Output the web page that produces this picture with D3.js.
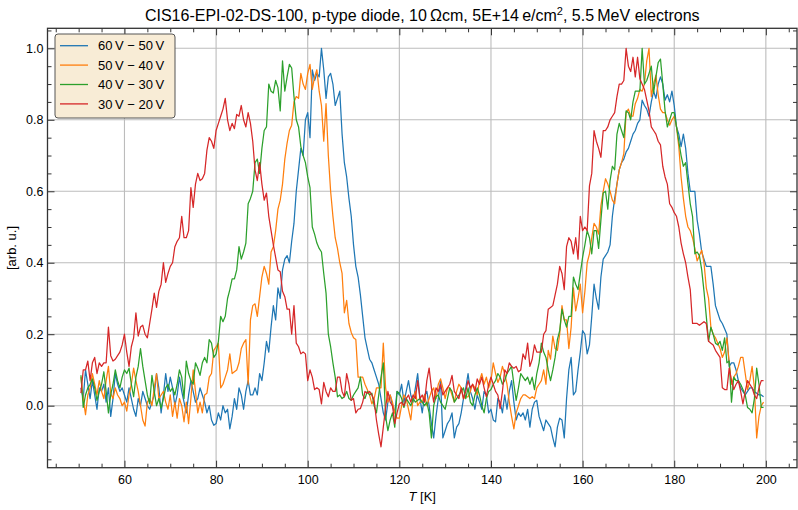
<!DOCTYPE html>
<html><head><meta charset="utf-8">
<script src="https://cdn.jsdelivr.net/npm/d3@7/dist/d3.min.js"></script>
<style>
body{margin:0;background:#fff}
svg{display:block}
text{font-family:"Liberation Sans",Arial,Helvetica,sans-serif;fill:#000}
</style>
</head><body><svg id="c" width="798" height="510"></svg>
<script>
// ---- data (T from 50.5 K to 199.5 K in 0.5 K steps) ----
const T_START = 50.5, T_STEP = 0.5;
const seriesLabels = ["60\u2009V \u2212 50\u2009V", "50\u2009V \u2212 40\u2009V", "40\u2009V \u2212 30\u2009V", "30\u2009V \u2212 20\u2009V"];
const seriesColors = ["#1f77b4", "#ff7f0e", "#2ca02c", "#d62728"];

const v60_50 = [
0.05,0.02,0.10,0.06,0.02,0.07,0.03,-0.01,0.05,
0.04,0.06,0.01,0.05,-0.03,0.02,0.09,0.06,0.04,0.05,
0.03,0.01,0.05,0.02,-0.01,-0.03,0.02,0.00,0.04,0.02,
0.00,-0.01,0.01,0.03,0.09,0.05,-0.02,0.03,0.09,0.04,
0.08,0.05,0.00,0.03,0.08,0.04,0.01,-0.02,0.03,0.07,
0.04,0.01,0.02,0.05,0.03,0.01,-0.02,0.00,-0.04,-0.055,
-0.05,-0.02,-0.04,0.00,-0.02,-0.01,-0.065,-0.03,0.02,-0.01,
0.05,0.03,-0.01,0.04,0.07,0.03,0.03,0.05,0.03,0.09,
0.07,0.12,0.18,0.15,0.22,0.28,0.24,0.33,0.30,0.38,
0.41,0.42,0.40,0.46,0.51,0.60,0.66,0.72,0.70,0.80,
0.82,0.75,0.94,0.91,0.93,0.92,1.00,0.94,0.86,0.92,
0.93,0.90,0.84,0.86,0.88,0.76,0.68,0.64,0.58,0.53,
0.45,0.39,0.36,0.31,0.25,0.19,0.16,0.13,0.12,0.10,
0.08,0.06,0.02,-0.02,-0.04,0.01,0.03,0.00,-0.02,0.04,
0.03,0.06,0.01,0.04,0.07,0.03,0.01,0.05,0.09,0.02,
-0.02,0.03,0.04,0.00,-0.05,-0.09,-0.03,0.02,0.07,-0.09,
-0.07,-0.05,-0.04,-0.02,-0.09,-0.06,-0.05,-0.02,0.02,0.05,
0.09,0.04,0.02,-0.01,0.03,0.01,-0.01,0.04,0.03,-0.02,
-0.01,-0.04,-0.045,0.02,0.01,-0.02,0.03,-0.01,0.04,0.07,
0.01,-0.04,-0.02,-0.03,-0.02,-0.04,-0.01,-0.06,-0.01,0.01,
0.015,-0.03,-0.05,-0.07,-0.04,-0.05,-0.06,-0.09,-0.115,-0.06,
-0.035,-0.04,-0.09,0.02,0.10,0.135,0.03,0.04,0.10,0.15,
0.21,0.20,0.145,0.17,0.25,0.34,0.30,0.27,0.36,0.41,
0.42,0.43,0.45,0.53,0.58,0.62,0.66,0.68,0.69,0.71,
0.72,0.74,0.76,0.77,0.79,0.80,0.855,0.84,0.83,0.81,
0.85,0.88,0.86,0.90,0.92,0.90,0.855,0.87,0.85,0.88,
0.84,0.78,0.76,0.725,0.76,0.72,0.65,0.60,0.60,0.60,
0.52,0.48,0.43,0.41,0.39,0.39,0.39,0.34,0.28,0.26,
0.24,0.23,0.215,0.20,0.11,0.12,0.12,0.10,0.07,0.05,
0.04,0.03,0.04,0.05,0.05,0.04,0.035,0.03,0.03,0.025];

const v50_40 = [
0.08,0.02,-0.025,0.03,0.05,0.09,0.06,0.03,0.07,
0.04,0.02,0.07,0.11,0.035,0.02,0.05,0.03,0.02,0.00,
0.01,-0.015,0.03,0.06,0.105,0.07,0.04,0.00,-0.04,-0.057,
0.01,0.02,0.00,0.05,0.09,0.02,0.03,0.04,0.01,-0.01,
0.03,-0.03,0.01,-0.035,0.02,0.00,-0.045,0.01,-0.05,0.02,
0.10,0.04,-0.02,0.01,-0.02,0.03,0.035,0.08,0.09,0.155,
0.165,0.175,0.05,0.06,0.08,0.10,0.145,0.09,0.095,0.10,
0.12,0.16,0.175,0.185,0.06,0.24,0.28,0.285,0.25,0.305,
0.36,0.39,0.37,0.34,0.43,0.445,0.49,0.55,0.575,0.62,
0.69,0.735,0.77,0.785,0.85,0.865,0.86,0.93,0.90,0.885,
0.93,0.955,0.885,0.92,0.94,0.88,0.84,0.74,0.845,0.70,
0.60,0.53,0.47,0.44,0.40,0.37,0.26,0.295,0.23,0.205,
0.19,0.185,0.08,0.08,0.08,0.06,0.045,0.03,0.005,0.02,
0.05,0.05,0.05,0.175,0.05,0.01,0.03,0.01,-0.02,-0.035,
-0.035,0.00,0.03,0.02,-0.01,-0.04,0.02,0.04,0.00,0.01,
0.01,0.03,0.00,0.02,0.04,0.05,0.02,0.06,0.075,0.05,
0.02,0.05,0.05,0.03,0.01,0.04,0.06,0.05,0.02,0.025,
0.025,0.04,0.06,0.05,0.03,0.07,0.09,0.06,0.08,0.05,
0.07,0.12,0.09,0.065,0.08,0.11,0.09,0.06,0.01,-0.03,
-0.065,-0.02,0.00,0.02,0.03,0.03,0.025,0.02,0.025,0.02,
0.05,0.06,0.07,0.10,0.06,0.155,0.13,0.195,0.16,0.155,
0.20,0.28,0.24,0.24,0.16,0.22,0.33,0.265,0.30,0.34,
0.26,0.32,0.40,0.425,0.47,0.51,0.50,0.48,0.56,0.60,
0.635,0.62,0.60,0.575,0.565,0.62,0.66,0.68,0.705,0.82,
0.83,0.81,0.81,0.845,0.86,0.885,0.88,0.90,0.965,1.00,
0.865,0.90,0.925,0.87,0.83,0.82,0.82,0.80,0.785,0.80,
0.81,0.78,0.725,0.64,0.58,0.53,0.50,0.49,0.47,0.44,
0.405,0.42,0.435,0.40,0.33,0.30,0.22,0.20,0.19,0.175,
0.16,0.135,0.15,0.19,0.12,0.06,0.08,0.09,0.11,0.135,
0.135,0.09,0.045,0.07,0.11,0.05,-0.09,-0.03,0.00,0.01];

const v40_30 = [
0.085,-0.005,0.03,0.05,0.06,0.075,0.05,0.015,0.04,
0.06,0.095,0.04,-0.02,0.03,0.06,0.10,0.07,0.05,0.08,
0.10,0.09,0.105,0.06,0.025,0.08,0.11,0.16,0.11,0.07,
0.03,0.005,0.085,0.04,0.00,0.02,-0.007,0.02,0.05,0.06,
0.04,0.05,0.03,0.06,0.10,0.08,0.02,0.125,0.09,0.07,
0.06,0.12,0.105,0.085,0.12,0.135,0.12,0.185,0.175,0.135,
0.145,0.18,0.25,0.235,0.25,0.30,0.325,0.355,0.355,0.38,
0.445,0.41,0.43,0.455,0.565,0.58,0.60,0.68,0.69,0.65,
0.72,0.77,0.78,0.90,0.88,0.875,0.91,0.89,0.825,0.965,
0.88,0.92,0.955,0.945,0.865,0.80,0.78,0.725,0.70,0.68,
0.64,0.61,0.50,0.48,0.455,0.44,0.43,0.37,0.315,0.20,
0.165,0.12,0.08,0.025,0.03,0.02,0.025,0.04,0.02,0.015,
0.03,0.04,0.05,0.08,0.03,0.02,0.04,0.03,0.035,0.00,
-0.02,0.03,0.08,0.12,-0.03,-0.07,-0.04,-0.02,-0.06,0.04,
0.035,0.02,-0.005,0.02,0.01,0.00,0.02,0.01,0.015,0.02,
0.01,0.00,0.01,-0.02,-0.09,0.00,0.025,0.03,0.01,0.00,
-0.01,0.02,0.05,0.04,0.01,0.02,0.03,0.04,0.05,0.02,
0.05,0.01,0.00,0.03,0.05,0.03,0.00,-0.02,0.02,0.04,
0.045,0.06,0.07,0.09,0.08,0.06,0.07,0.09,0.10,0.11,
0.06,0.015,0.05,0.09,0.08,0.07,0.08,0.06,0.08,0.045,
0.09,0.12,0.175,0.15,0.135,0.10,0.07,0.10,0.135,0.185,
0.21,0.27,0.24,0.22,0.25,0.25,0.36,0.34,0.325,0.37,
0.415,0.45,0.49,0.47,0.425,0.49,0.49,0.44,0.52,0.595,
0.60,0.55,0.63,0.67,0.66,0.76,0.79,0.77,0.75,0.825,
0.82,0.80,0.85,0.88,0.88,0.88,1.00,0.90,0.91,0.93,
0.95,0.875,0.92,0.96,0.97,0.90,0.825,0.78,0.80,0.82,
0.82,0.78,0.74,0.70,0.67,0.68,0.62,0.565,0.53,0.425,
0.43,0.42,0.38,0.32,0.25,0.18,0.22,0.20,0.175,0.17,
0.18,0.155,0.19,0.12,0.125,0.01,0.08,0.07,0.07,0.06,
0.045,0.03,-0.005,-0.01,-0.02,0.02,0.105,0.06,-0.005,-0.005];

const v30_20 = [
0.035,0.10,0.10,0.125,0.07,0.12,0.135,0.09,0.12,
0.11,0.12,0.12,0.22,0.14,0.125,0.13,0.14,0.15,0.17,
0.20,0.15,0.11,0.165,0.19,0.26,0.195,0.22,0.225,0.20,
0.19,0.23,0.27,0.315,0.275,0.32,0.34,0.40,0.345,0.37,
0.39,0.40,0.445,0.46,0.47,0.53,0.47,0.47,0.49,0.61,
0.555,0.62,0.65,0.63,0.635,0.65,0.715,0.75,0.74,0.72,
0.77,0.79,0.81,0.83,0.86,0.80,0.77,0.79,0.775,0.815,
0.81,0.84,0.80,0.78,0.82,0.79,0.74,0.66,0.63,0.68,
0.62,0.575,0.595,0.53,0.49,0.45,0.415,0.38,0.375,0.32,
0.305,0.27,0.27,0.20,0.28,0.175,0.165,0.145,0.15,0.145,
0.07,0.10,0.08,0.045,0.05,0.045,0.005,0.065,0.04,0.025,
0.05,0.04,0.04,0.08,0.08,0.04,0.025,0.09,0.06,0.015,
0.02,-0.02,-0.01,-0.008,0.01,0.04,0.035,0.04,0.03,0.015,
-0.04,-0.08,-0.115,-0.06,-0.005,0.04,0.01,0.00,-0.05,-0.02,
0.005,0.01,0.00,0.02,0.03,0.01,0.03,0.02,0.07,0.02,
0.03,0.01,0.07,0.105,0.05,0.01,0.05,0.04,0.06,0.03,
0.04,0.05,0.06,0.085,0.04,0.03,0.02,0.05,0.02,0.04,
0.07,0.05,0.06,0.04,0.075,0.06,0.08,0.05,0.025,0.06,
0.08,0.06,0.04,0.03,-0.008,0.04,0.10,0.09,0.12,0.11,
0.105,0.11,0.095,0.10,0.145,0.13,0.175,0.11,0.13,0.17,
0.15,0.15,0.15,0.20,0.21,0.27,0.275,0.28,0.31,0.34,
0.39,0.37,0.325,0.445,0.47,0.46,0.425,0.47,0.41,0.53,
0.49,0.50,0.49,0.615,0.65,0.77,0.74,0.72,0.695,0.77,
0.77,0.78,0.80,0.81,0.82,0.865,0.90,0.90,0.91,1.00,
0.95,0.935,0.975,0.92,0.975,0.915,0.90,0.885,0.855,0.825,
0.78,0.77,0.76,0.74,0.73,0.67,0.64,0.62,0.565,0.555,
0.54,0.53,0.50,0.455,0.425,0.40,0.36,0.325,0.23,0.23,
0.23,0.225,0.23,0.235,0.23,0.18,0.175,0.17,0.155,0.145,
0.135,0.05,0.045,0.045,0.105,0.07,0.045,0.06,0.07,0.04,
0.005,0.04,0.07,0.06,0.05,0.03,0.02,0.05,0.07,0.07];

const xTickValues = [60, 80, 100, 120, 140, 160, 180, 200];
const yTickValues = [0.0, 0.2, 0.4, 0.6, 0.8, 1.0];
const titleMain = "CIS16-EPI-02-DS-100, p-type diode, 10\u2009\u03A9cm, 5E+14\u2009e/cm";
const titleSup = "2";
const titleTail = ", 5.5\u2009MeV electrons";

// ---- drawing ----
const allSeries = [v60_50, v50_40, v40_30, v30_20];
const svg = d3.select("#c");
const L = 47.5, R = 797, Tp = 28.3, B = 467.7;
const x = d3.scaleLinear().domain([43.2, 206.8]).range([L, R]);
const y = d3.scaleLinear().domain([-0.1735, 1.056]).range([B, Tp]);

const xMinor = d3.range(45, 206, 5).filter(v => !xTickValues.includes(v));
const yMinor = d3.range(-0.15, 1.051, 0.05).map(v => +v.toFixed(2)).filter(v => !yTickValues.some(t => Math.abs(t - v) < 1e-6));

// grid
const grid = svg.append("g").attr("stroke", "#bcbcbc").attr("stroke-width", 1.1);
grid.selectAll("line.gx").data(xTickValues).join("line")
  .attr("x1", d => x(d)).attr("x2", d => x(d)).attr("y1", Tp).attr("y2", B);
grid.selectAll("line.gy").data(yTickValues).join("line")
  .attr("x1", L).attr("x2", R).attr("y1", d => y(d)).attr("y2", d => y(d));

// clip
svg.append("clipPath").attr("id", "clip").append("rect")
  .attr("x", L).attr("y", Tp).attr("width", R - L).attr("height", B - Tp);

const line = d3.line().x((d, i) => x(T_START + T_STEP * i)).y(d => y(d));
const lines = svg.append("g").attr("clip-path", "url(#clip)");
allSeries.forEach((s, k) => {
  lines.append("path").datum(s).attr("d", line)
    .attr("fill", "none").attr("stroke", seriesColors[k])
    .attr("stroke-width", 1.25).attr("stroke-linejoin", "round");
});

// axes (ticks inward on all four sides)
function styleAxis(g) {
  g.select(".domain").remove();
  g.selectAll(".tick line").attr("stroke", "#333").attr("stroke-width", 1);
  g.selectAll(".tick text").attr("font-size", 12.5).attr("fill", "#000")
    .attr("font-family", '"Liberation Sans",Arial,Helvetica,sans-serif');
}
svg.append("g").attr("transform", `translate(0,${B})`)
  .call(d3.axisBottom(x).tickValues(xTickValues).tickFormat(d3.format("d")).tickSize(-7).tickPadding(7)).call(styleAxis);
svg.append("g").attr("transform", `translate(0,${B})`)
  .call(d3.axisBottom(x).tickValues(xMinor).tickFormat("").tickSize(-4)).call(styleAxis);
svg.append("g").attr("transform", `translate(0,${Tp})`)
  .call(d3.axisTop(x).tickValues(xTickValues).tickFormat("").tickSize(-7)).call(styleAxis);
svg.append("g").attr("transform", `translate(0,${Tp})`)
  .call(d3.axisTop(x).tickValues(xMinor).tickFormat("").tickSize(-4)).call(styleAxis);
svg.append("g").attr("transform", `translate(${L},0)`)
  .call(d3.axisLeft(y).tickValues(yTickValues).tickFormat(d3.format(".1f")).tickSize(-7).tickPadding(4)).call(styleAxis);
svg.append("g").attr("transform", `translate(${L},0)`)
  .call(d3.axisLeft(y).tickValues(yMinor).tickFormat("").tickSize(-4)).call(styleAxis);
svg.append("g").attr("transform", `translate(${R},0)`)
  .call(d3.axisRight(y).tickValues(yTickValues).tickFormat("").tickSize(-7)).call(styleAxis);
svg.append("g").attr("transform", `translate(${R},0)`)
  .call(d3.axisRight(y).tickValues(yMinor).tickFormat("").tickSize(-4)).call(styleAxis);

// frame
svg.append("rect").attr("x", L).attr("y", Tp).attr("width", R - L).attr("height", B - Tp)
  .attr("fill", "none").attr("stroke", "#333").attr("stroke-width", 1.3);

// title
const title = svg.append("text").attr("x", (L + R) / 2).attr("y", 21)
  .attr("text-anchor", "middle").attr("font-size", 16);
title.append("tspan").text(titleMain);
title.append("tspan").attr("dy", -6).attr("font-size", 11).text(titleSup);
title.append("tspan").attr("dy", 6).text(titleTail);

// axis labels
const xl = svg.append("text").attr("x", (L + R) / 2).attr("y", 501)
  .attr("text-anchor", "middle").attr("font-size", 13);
xl.append("tspan").attr("font-style", "italic").text("T");
xl.append("tspan").text(" [K]");
svg.append("text").attr("transform", `translate(16,${(Tp + B) / 2}) rotate(-90)`)
  .attr("text-anchor", "middle").attr("font-size", 13).text("[arb. u.]");

// legend
const lg = svg.append("g");
lg.append("rect").attr("x", 55).attr("y", 34).attr("width", 120).attr("height", 84)
  .attr("rx", 3).attr("fill", "#f8ecd6").attr("stroke", "#555").attr("stroke-width", 1);
seriesLabels.forEach((lab, k) => {
  const yy = 45.7 + k * 19.4;
  lg.append("line").attr("x1", 60).attr("x2", 88).attr("y1", yy).attr("y2", yy)
    .attr("stroke", seriesColors[k]).attr("stroke-width", 1.3);
  lg.append("text").attr("x", 98).attr("y", yy + 4.6).attr("font-size", 13).text(lab);
});
</script>
</body></html>
